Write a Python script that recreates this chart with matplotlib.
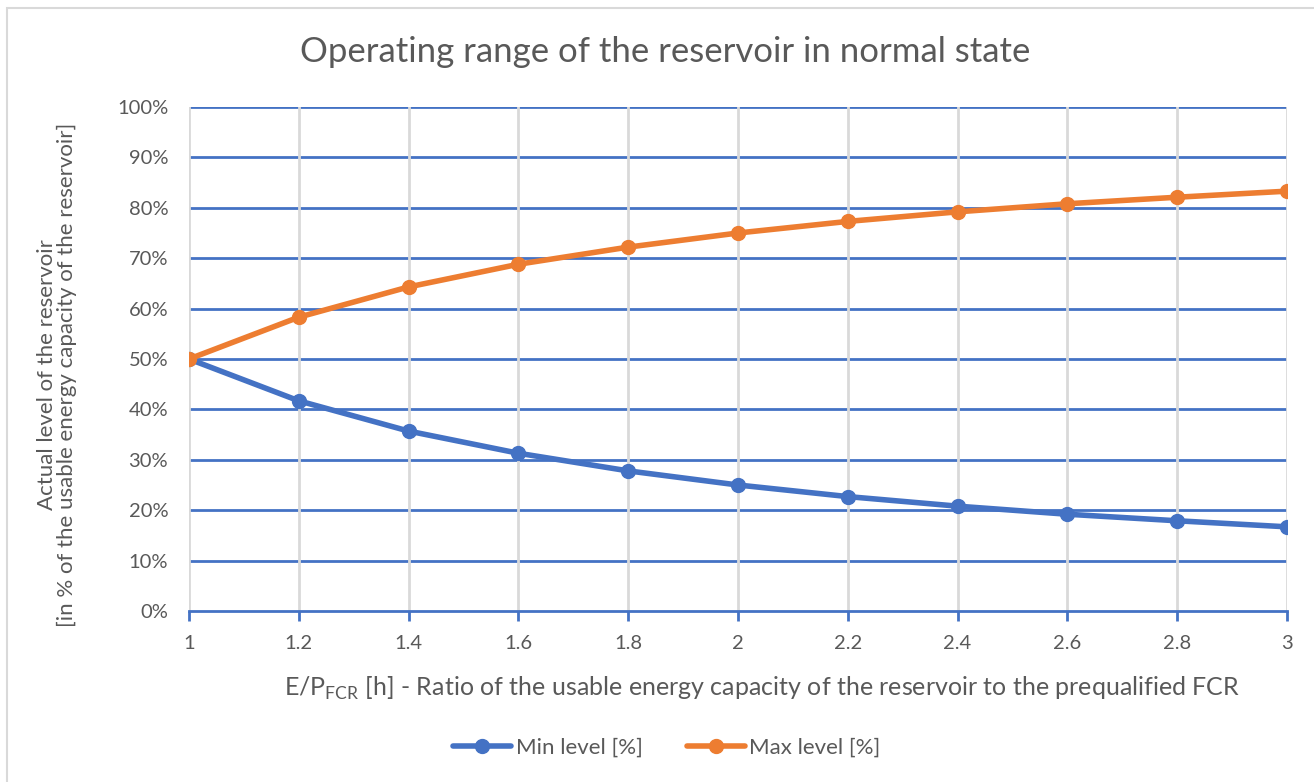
import numpy as np
import matplotlib
matplotlib.use('Agg')
from matplotlib import pyplot as plt
from matplotlib.patches import Rectangle
from matplotlib.ticker import PercentFormatter

plt.rcParams['font.family'] = ['Lato', 'DejaVu Sans']

ratio = [1, 1.2, 1.4, 1.6, 1.8, 2, 2.2, 2.4, 2.6, 2.8, 3]
min_level = [50.0, 41.7, 35.7, 31.3, 27.8, 25.0, 22.7, 20.8, 19.2, 17.9, 16.7]
max_level = [50.0, 58.3, 64.3, 68.8, 72.2, 75.0, 77.3, 79.2, 80.8, 82.1, 83.3]

blue = '#4472c4'
orange = '#ed7d31'
txt = '#595959'

fig = plt.figure(figsize=(13.14, 7.82), dpi=100)
W, H = 1314, 782
ax = fig.add_axes([189 / W, 1 - 611 / H, (1287 - 189) / W, (611 - 107) / H])

# chart border (only top/left visible in the crop)
fig.patches.append(Rectangle((7 / W, -0.1), 1.2, 1 - 8 / H + 0.1, transform=fig.transFigure,
                             fill=False, edgecolor='#d9d9d9', linewidth=1.5))

# gridlines: blue horizontals, gray verticals on top
for y in np.arange(10, 101, 10):
    ax.axhline(y, color=blue, linewidth=2, zorder=1)
for x in ratio:
    ax.axvline(x, color='#d9d9d9', linewidth=2, zorder=1.5)

ax.plot(ratio, min_level, color=blue, linewidth=4, marker='o', markersize=10,
        label='Min level [%]', zorder=3, solid_capstyle='round')
ax.plot(ratio, max_level, color=orange, linewidth=4, marker='o', markersize=10,
        label='Max level [%]', zorder=3, solid_capstyle='round')

ax.set_xlim(1, 3)
ax.set_ylim(0, 100)
ax.set_xticks(ratio)
ax.set_xticklabels(['1', '1.2', '1.4', '1.6', '1.8', '2', '2.2', '2.4', '2.6', '2.8', '3'])
ax.set_yticks(np.arange(0, 101, 10))
ax.yaxis.set_major_formatter(PercentFormatter(decimals=0))

for s in ['top', 'right', 'left']:
    ax.spines[s].set_visible(False)
ax.spines['bottom'].set_color(blue)
ax.spines['bottom'].set_linewidth(2)
ax.spines['bottom'].set_zorder(2)
ax.tick_params(axis='x', colors=blue, length=7, width=2, direction='out', pad=10,
               labelcolor=txt, labelsize=14.5)
ax.tick_params(axis='y', length=0, pad=15, labelcolor=txt, labelsize=14.5)

fig.text(665 / W, 1 - 52 / H, 'Operating range of the reservoir in normal state',
         fontsize=25, color=txt, ha='center', va='center')
ax.set_xlabel(r'E/P$_{\mathregular{FCR}}$ [h] - Ratio of the usable energy capacity of the reservoir to the prequalified FCR',
              fontsize=18, color=txt)
ax.xaxis.set_label_coords((762 - 189) / 1098, -(688 - 611) / 504)
ax.xaxis.label.set_va('center')
ax.set_ylabel('Actual level of the reservoir\n[in % of the usable energy capacity of the reservoir]',
              fontsize=16, color=txt, linespacing=1.05)
ax.yaxis.set_label_coords(-(189 - 57) / 1098, (611 - 375) / 504)
ax.yaxis.label.set_va('center')

fig.legend(loc='center', bbox_to_anchor=(667 / W, 1 - 748 / H), ncol=2, frameon=False,
           fontsize=16, labelcolor=txt, handlelength=2.6, columnspacing=2.0, handletextpad=0.2)

fig.savefig('out.png', dpi=100)
